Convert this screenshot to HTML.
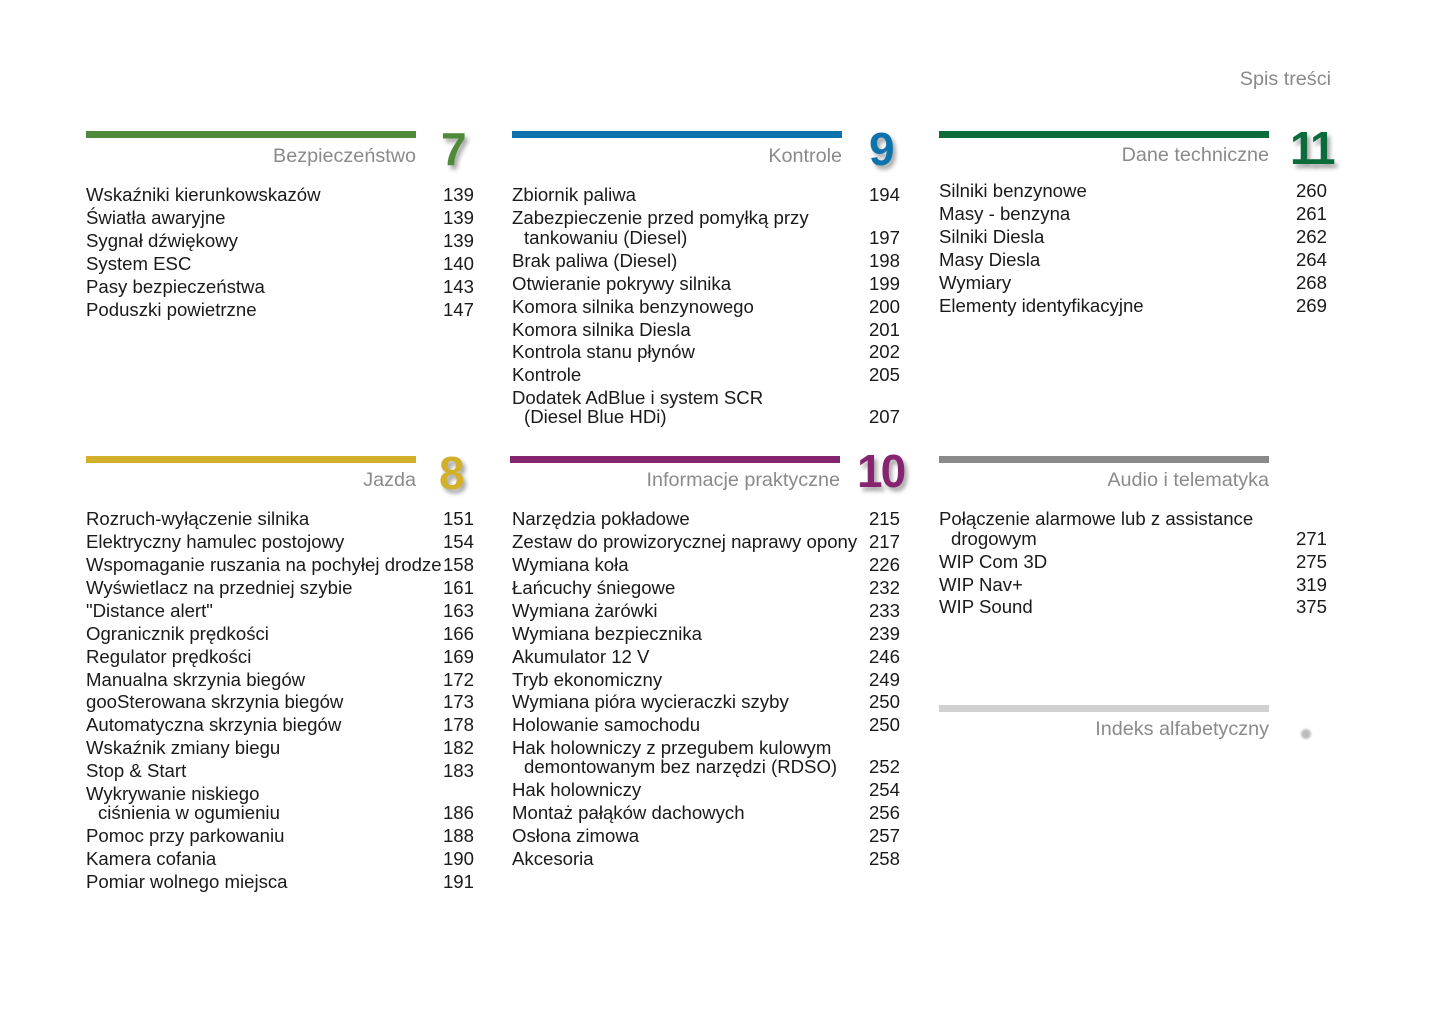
<!DOCTYPE html>
<html><head><meta charset="utf-8"><style>
body{margin:0;width:1445px;height:1019px;background:#fff;position:relative;overflow:hidden;font-family:"Liberation Sans",sans-serif;}
div{position:absolute;white-space:nowrap}
.t{font-size:18.6px;line-height:22px;color:#1a1a1a;margin-top:1px}
.n{font-size:18.6px;line-height:22px;color:#1a1a1a;width:60px;text-align:right;margin-top:1px}
.bar{height:7px}
.h{font-size:19.8px;line-height:22px;color:#8a8a8a;text-align:right;width:330px;margin-top:1px}
.big{font-size:46px;font-weight:bold;line-height:44px;text-shadow:3px 4px 4px rgba(0,0,0,0.35)}
</style></head><body>
<div style="left:1200px;top:68px;width:131px;text-align:right;font-size:19.8px;line-height:22px;color:#8a8a8a">Spis treści</div>

<div class="bar" style="left:86px;top:131px;width:330px;background:#4f8a3a"></div>
<div class="h" style="left:86px;top:144px">Bezpieczeństwo</div>
<div class="big" style="left:441px;top:127px;color:#4f8a3a">7</div>

<div class="bar" style="left:512px;top:131px;width:330px;background:#0e72ad"></div>
<div class="h" style="left:512px;top:144px">Kontrole</div>
<div class="big" style="left:869px;top:127px;color:#0e72ad">9</div>

<div class="bar" style="left:939px;top:131px;width:330px;background:#0b6b3a"></div>
<div class="h" style="left:939px;top:143px">Dane techniczne</div>
<div class="big" style="left:1290px;top:126px;color:#0b6b3a;letter-spacing:-3px">11</div>

<div class="bar" style="left:86px;top:456px;width:330px;background:#d3b02c"></div>
<div class="h" style="left:86px;top:468px">Jazda</div>
<div class="big" style="left:439px;top:451px;color:#d3b02c">8</div>

<div class="bar" style="left:510px;top:456px;width:330px;background:#86256f"></div>
<div class="h" style="left:510px;top:468px">Informacje praktyczne</div>
<div class="big" style="left:857px;top:449px;color:#86256f;letter-spacing:-2px">10</div>

<div class="bar" style="left:939px;top:456px;width:330px;background:#8a8a8a"></div>
<div class="h" style="left:939px;top:468px">Audio i telematyka</div>

<div class="bar" style="left:939px;top:705px;width:330px;background:#d0d0d0"></div>
<div class="h" style="left:939px;top:717px">Indeks alfabetyczny</div>
<div style="left:1301px;top:729px;width:10px;height:10px;border-radius:50%;background:#bbb;filter:blur(1px)"></div>

<div class="t" style="left:86px;top:183px">Wskaźniki kierunkowskazów</div><div class="n" style="left:414px;top:183px">139</div>
<div class="t" style="left:86px;top:206px">Światła awaryjne</div><div class="n" style="left:414px;top:206px">139</div>
<div class="t" style="left:86px;top:229px">Sygnał dźwiękowy</div><div class="n" style="left:414px;top:229px">139</div>
<div class="t" style="left:86px;top:252px">System ESC</div><div class="n" style="left:414px;top:252px">140</div>
<div class="t" style="left:86px;top:275px">Pasy bezpieczeństwa</div><div class="n" style="left:414px;top:275px">143</div>
<div class="t" style="left:86px;top:298px">Poduszki powietrzne</div><div class="n" style="left:414px;top:298px">147</div>

<div class="t" style="left:512px;top:183px">Zbiornik paliwa</div><div class="n" style="left:840px;top:183px">194</div>
<div class="t" style="left:512px;top:206px">Zabezpieczenie przed pomyłką przy</div>
<div class="t" style="left:524px;top:226px">tankowaniu (Diesel)</div><div class="n" style="left:840px;top:226px">197</div>
<div class="t" style="left:512px;top:249px">Brak paliwa (Diesel)</div><div class="n" style="left:840px;top:249px">198</div>
<div class="t" style="left:512px;top:272px">Otwieranie pokrywy silnika</div><div class="n" style="left:840px;top:272px">199</div>
<div class="t" style="left:512px;top:295px">Komora silnika benzynowego</div><div class="n" style="left:840px;top:295px">200</div>
<div class="t" style="left:512px;top:318px">Komora silnika Diesla</div><div class="n" style="left:840px;top:318px">201</div>
<div class="t" style="left:512px;top:340px">Kontrola stanu płynów</div><div class="n" style="left:840px;top:340px">202</div>
<div class="t" style="left:512px;top:363px">Kontrole</div><div class="n" style="left:840px;top:363px">205</div>
<div class="t" style="left:512px;top:386px">Dodatek AdBlue i system SCR</div>
<div class="t" style="left:524px;top:405px">(Diesel Blue HDi)</div><div class="n" style="left:840px;top:405px">207</div>

<div class="t" style="left:939px;top:179px">Silniki benzynowe</div><div class="n" style="left:1267px;top:179px">260</div>
<div class="t" style="left:939px;top:202px">Masy - benzyna</div><div class="n" style="left:1267px;top:202px">261</div>
<div class="t" style="left:939px;top:225px">Silniki Diesla</div><div class="n" style="left:1267px;top:225px">262</div>
<div class="t" style="left:939px;top:248px">Masy Diesla</div><div class="n" style="left:1267px;top:248px">264</div>
<div class="t" style="left:939px;top:271px">Wymiary</div><div class="n" style="left:1267px;top:271px">268</div>
<div class="t" style="left:939px;top:294px">Elementy identyfikacyjne</div><div class="n" style="left:1267px;top:294px">269</div>

<div class="t" style="left:86px;top:507px">Rozruch-wyłączenie silnika</div><div class="n" style="left:414px;top:507px">151</div>
<div class="t" style="left:86px;top:530px">Elektryczny hamulec postojowy</div><div class="n" style="left:414px;top:530px">154</div>
<div class="t" style="left:86px;top:553px">Wspomaganie ruszania na pochyłej drodze</div><div class="n" style="left:414px;top:553px">158</div>
<div class="t" style="left:86px;top:576px">Wyświetlacz na przedniej szybie</div><div class="n" style="left:414px;top:576px">161</div>
<div class="t" style="left:86px;top:599px">"Distance alert"</div><div class="n" style="left:414px;top:599px">163</div>
<div class="t" style="left:86px;top:622px">Ogranicznik prędkości</div><div class="n" style="left:414px;top:622px">166</div>
<div class="t" style="left:86px;top:645px">Regulator prędkości</div><div class="n" style="left:414px;top:645px">169</div>
<div class="t" style="left:86px;top:668px">Manualna skrzynia biegów</div><div class="n" style="left:414px;top:668px">172</div>
<div class="t" style="left:86px;top:690px">gooSterowana skrzynia biegów</div><div class="n" style="left:414px;top:690px">173</div>
<div class="t" style="left:86px;top:713px">Automatyczna skrzynia biegów</div><div class="n" style="left:414px;top:713px">178</div>
<div class="t" style="left:86px;top:736px">Wskaźnik zmiany biegu</div><div class="n" style="left:414px;top:736px">182</div>
<div class="t" style="left:86px;top:759px">Stop &amp; Start</div><div class="n" style="left:414px;top:759px">183</div>
<div class="t" style="left:86px;top:782px">Wykrywanie niskiego</div>
<div class="t" style="left:98px;top:801px">ciśnienia w ogumieniu</div><div class="n" style="left:414px;top:801px">186</div>
<div class="t" style="left:86px;top:824px">Pomoc przy parkowaniu</div><div class="n" style="left:414px;top:824px">188</div>
<div class="t" style="left:86px;top:847px">Kamera cofania</div><div class="n" style="left:414px;top:847px">190</div>
<div class="t" style="left:86px;top:870px">Pomiar wolnego miejsca</div><div class="n" style="left:414px;top:870px">191</div>

<div class="t" style="left:512px;top:507px">Narzędzia pokładowe</div><div class="n" style="left:840px;top:507px">215</div>
<div class="t" style="left:512px;top:530px">Zestaw do prowizorycznej naprawy opony</div><div class="n" style="left:840px;top:530px">217</div>
<div class="t" style="left:512px;top:553px">Wymiana koła</div><div class="n" style="left:840px;top:553px">226</div>
<div class="t" style="left:512px;top:576px">Łańcuchy śniegowe</div><div class="n" style="left:840px;top:576px">232</div>
<div class="t" style="left:512px;top:599px">Wymiana żarówki</div><div class="n" style="left:840px;top:599px">233</div>
<div class="t" style="left:512px;top:622px">Wymiana bezpiecznika</div><div class="n" style="left:840px;top:622px">239</div>
<div class="t" style="left:512px;top:645px">Akumulator 12 V</div><div class="n" style="left:840px;top:645px">246</div>
<div class="t" style="left:512px;top:668px">Tryb ekonomiczny</div><div class="n" style="left:840px;top:668px">249</div>
<div class="t" style="left:512px;top:690px">Wymiana pióra wycieraczki szyby</div><div class="n" style="left:840px;top:690px">250</div>
<div class="t" style="left:512px;top:713px">Holowanie samochodu</div><div class="n" style="left:840px;top:713px">250</div>
<div class="t" style="left:512px;top:736px">Hak holowniczy z przegubem kulowym</div>
<div class="t" style="left:524px;top:755px">demontowanym bez narzędzi (RDSO)</div><div class="n" style="left:840px;top:755px">252</div>
<div class="t" style="left:512px;top:778px">Hak holowniczy</div><div class="n" style="left:840px;top:778px">254</div>
<div class="t" style="left:512px;top:801px">Montaż pałąków dachowych</div><div class="n" style="left:840px;top:801px">256</div>
<div class="t" style="left:512px;top:824px">Osłona zimowa</div><div class="n" style="left:840px;top:824px">257</div>
<div class="t" style="left:512px;top:847px">Akcesoria</div><div class="n" style="left:840px;top:847px">258</div>

<div class="t" style="left:939px;top:507px">Połączenie alarmowe lub z assistance</div>
<div class="t" style="left:951px;top:527px">drogowym</div><div class="n" style="left:1267px;top:527px">271</div>
<div class="t" style="left:939px;top:550px">WIP Com 3D</div><div class="n" style="left:1267px;top:550px">275</div>
<div class="t" style="left:939px;top:573px">WIP Nav+</div><div class="n" style="left:1267px;top:573px">319</div>
<div class="t" style="left:939px;top:595px">WIP Sound</div><div class="n" style="left:1267px;top:595px">375</div>
</body></html>
